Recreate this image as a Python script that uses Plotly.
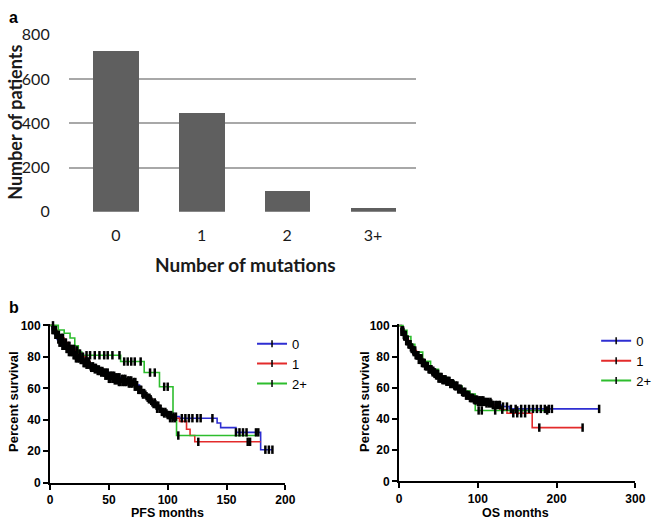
import numpy as np
import plotly.graph_objects as go

W, H = 664, 527

# ---------------- Panel a data ----------------
categories = ["0", "1", "2", "3+"]
patients = [729, 445, 96, 19]
bar_yticks = [0, 200, 400, 600, 800]

# ---------------- Panel b data: PFS ----------------
pfs0_t = [0, 2, 4, 6, 8, 10, 13, 16, 19, 22, 25, 28, 31, 35, 40, 45, 50, 55, 60, 65, 70, 73, 76, 79, 82, 85, 88, 91, 94, 97, 100, 104, 110, 142, 145, 158, 179, 189]
pfs0_s = [100, 97, 94, 91, 89, 87, 85, 83, 81, 79, 78, 76, 75, 73, 71, 70, 68, 67, 66, 65, 64, 62, 59, 56, 54, 52, 50, 47, 45, 44, 43, 42, 41, 38, 35, 32, 21, 21]
pfs1_t = [0, 3, 6, 9, 12, 15, 18, 21, 24, 27, 30, 34, 38, 42, 46, 50, 54, 58, 66, 72, 75, 78, 81, 84, 87, 90, 93, 96, 99, 102, 110, 116, 119, 123, 179]
pfs1_s = [100, 97, 94, 92, 89, 87, 85, 84, 82, 80, 77, 74, 72, 70, 68, 66, 65, 64, 63, 61, 59, 57, 55, 53, 51, 49, 47, 45, 43, 41, 39, 34, 30, 26, 26]
pfs2_t = [0, 7, 12, 17, 21, 24, 27, 60, 80, 93, 104.5, 107.5, 175]
pfs2_s = [100, 97, 95, 92, 87, 83, 81, 77, 70, 61, 40, 30, 30]

pfs0_c = [2, 3, 4.5, 5.5, 7, 8, 9, 10.5, 11.5, 12.5, 14, 15, 16, 17.5, 18.5, 20, 21, 22, 23.5, 24.5, 26, 27, 28.5, 29.5, 31, 32, 33.5, 35, 36, 37.5, 39, 40.5, 42, 43, 44.5, 46, 47.5, 49, 50.5, 52, 53, 54.5, 56, 57.5, 59, 61, 62.5, 64, 66, 67.5, 69, 71, 72.5, 74, 76, 77.5, 79, 81, 83, 84.5, 86, 88, 89.5, 91, 93, 95, 97, 99, 101, 103, 105, 107, 112, 115, 118, 121, 125, 128, 138, 158, 161, 164, 167, 175, 177, 183, 186, 189]
pfs1_c = [2.5, 4, 5, 6, 7.5, 9.5, 10, 11, 13, 13.5, 15.5, 16.5, 18, 19, 20.5, 22.5, 23, 25, 25.5, 27.5, 28, 30, 31.5, 33, 34.5, 36.5, 38, 40, 41.5, 43.5, 45, 47, 48.5, 50, 51.5, 53.5, 55, 57, 58.5, 60, 62, 63.5, 65, 67, 68.5, 70, 72, 73.5, 75, 77, 78.5, 80, 82, 84, 85.5, 87, 89, 90.5, 92, 94, 96, 98, 100, 102, 104, 106, 126, 168, 170]
pfs2_c = [31, 34, 38, 42, 46, 49, 53, 59, 63, 66, 69, 72, 77, 85, 89, 97, 100, 109]

# ---------------- Panel b data: OS ----------------
os0_t = [0, 3, 6, 9, 12, 15, 18, 21, 25, 29, 33, 37, 41, 45, 50, 55, 60, 65, 70, 75, 80, 85, 90, 95, 100, 110, 120, 130, 140, 255]
os0_s = [100, 96, 93, 90, 88, 85, 83, 81, 78, 76, 74, 72, 71, 69, 67, 65.5, 64.5, 63, 61.5, 59.5, 57.5, 55.5, 53.5, 52, 51, 50, 49, 48, 46.5, 46.5]
os1_t = [0, 3, 6, 9, 12, 15, 18, 22, 26, 30, 34, 38, 42, 46, 50, 55, 60, 65, 70, 75, 80, 85, 90, 95, 100, 108, 118, 128, 137, 169, 233]
os1_s = [100, 97, 94, 91, 88, 86, 84, 81, 79, 76, 74, 72, 70, 68, 66, 65, 64, 62.5, 61, 59, 57, 55, 53.5, 52.5, 52, 51, 49, 46, 43.7, 34.5, 34.5]
os2_t = [0, 5, 10, 15, 20, 30, 40, 50, 60, 70, 80, 90, 96.7, 190]
os2_s = [100, 97, 93, 88, 83, 77, 72, 67, 64, 61, 58, 56, 45.5, 45.5]

os0_c = [3, 4, 5.5, 6.5, 8, 9, 10.5, 12, 13, 14.5, 16, 17, 18.5, 20, 21, 22.5, 24, 25, 26.5, 28, 29, 30.5, 32, 33, 34.5, 36, 37.5, 39, 40.5, 42, 43.5, 45, 46.5, 48, 49.5, 51, 52.5, 54, 56, 57.5, 59, 61, 62.5, 64, 66, 68, 70, 72, 74, 76, 78, 80, 82, 84, 86, 88, 90, 92, 94, 96, 98, 100, 102, 104, 106, 108, 111, 114, 117, 120, 124, 128, 132, 137, 142, 148, 155, 160, 165, 170, 175, 180, 185, 190, 194, 254]
os1_c = [3.5, 5, 6, 7.5, 8.5, 10, 11, 12.5, 14, 15, 16.5, 18, 19, 20.5, 22, 23, 24.5, 26, 27, 28.5, 30, 31, 32.5, 34, 35, 36.5, 38, 39.5, 41, 42.5, 44, 45.5, 47, 48.5, 50, 51.5, 53, 55, 56.5, 58, 60, 61.5, 63, 65, 67, 69, 71, 73, 75, 77, 79, 81, 83, 85, 87, 89, 91, 93, 95, 97, 99, 101, 103, 105, 107, 110, 113, 116, 119, 123, 127, 131, 145, 150, 155, 160, 178, 233]
os2_c = [101, 105, 122, 150, 188]

group_names = ["0", "1", "2+"]
group_colors = ["#2e2ed2", "#e32b2b", "#2dbd2d"]


def px_x(p):
    return p / W


def px_y(p):
    return 1 - p / H


def surv_at(t, s, c):
    t = np.asarray(t, float)
    s = np.asarray(s, float)
    idx = np.searchsorted(t, np.asarray(c, float), side="right") - 1
    return s[np.clip(idx, 0, len(s) - 1)]


fig = go.Figure()

# ---- bar chart ----
fig.add_trace(go.Bar(x=categories, y=patients, width=0.53, marker=dict(color="#5f5f5f", line=dict(width=0)),
                     xaxis="x", yaxis="y", showlegend=False))

KM_FONT = "Liberation Sans, Arial, sans-serif"


def add_km(curves, censors, xa, ya, legend_name):
    for (t, s), col in zip(curves, group_colors):
        fig.add_trace(go.Scatter(x=t, y=s, mode="lines", line=dict(color=col, width=1.6, shape="hv"),
                                 xaxis=xa, yaxis=ya, showlegend=False, hoverinfo="skip"))
    for (t, s), c in zip(curves, censors):
        fig.add_trace(go.Scatter(x=c, y=surv_at(t, s, c), mode="markers",
                                 marker=dict(symbol="line-ns", size=6, line=dict(width=2.5, color="black")),
                                 xaxis=xa, yaxis=ya, showlegend=False, cliponaxis=False))
    for name, col in zip(group_names, group_colors):
        fig.add_trace(go.Scatter(x=[None], y=[None], mode="lines+markers", name=name,
                                 line=dict(color=col, width=2),
                                 marker=dict(symbol="line-ns", size=5, line=dict(width=1.5, color="black")),
                                 xaxis=xa, yaxis=ya, legend=legend_name))


add_km([(pfs0_t, pfs0_s), (pfs1_t, pfs1_s), (pfs2_t, pfs2_s)], [pfs0_c, pfs1_c, pfs2_c], "x2", "y2", "legend")
add_km([(os0_t, os0_s), (os1_t, os1_s), (os2_t, os2_s)], [os0_c, os1_c, os2_c], "x3", "y3", "legend2")

km_axis = dict(showline=True, linecolor="black", linewidth=2, ticks="outside", ticklen=5, tickwidth=2,
               tickcolor="black", showgrid=False, zeroline=False,
               tickfont=dict(family=KM_FONT, size=12, color="black", weight="bold"), fixedrange=True)

legend_style = dict(font=dict(family=KM_FONT, size=13, color="black"), bgcolor="rgba(0,0,0,0)",
                    xanchor="left", yanchor="top", tracegroupgap=0, itemclick=False)

fig.update_layout(
    width=W, height=H, margin=dict(l=0, r=0, t=0, b=0),
    paper_bgcolor="white", plot_bgcolor="white",
    xaxis=dict(domain=[px_x(67), px_x(421)], anchor="y", range=[-0.55, 3.5], type="category",
               showline=False, showgrid=False, zeroline=False, ticks="",
               tickfont=dict(family="Lato, sans-serif", size=16, color="#1a1a1a"), ticklabelstandoff=12),
    yaxis=dict(domain=[px_y(210), px_y(25.8)], anchor="x", range=[0, 804], tickvals=bar_yticks,
               showgrid=True, gridcolor="#a8a8a8", gridwidth=2, zeroline=False, showline=False, ticks="",
               tickfont=dict(family="Lato, sans-serif", size=16, color="#1a1a1a"), ticklabelstandoff=18),
    xaxis2=dict(domain=[px_x(48), px_x(288)], anchor="y2", range=[0, 200], tickvals=[0, 50, 100, 150, 200], **km_axis),
    yaxis2=dict(domain=[px_y(490.5), px_y(325.9)], anchor="x2", range=[0, 101], tickvals=[0, 20, 40, 60, 80, 100], **km_axis),
    xaxis3=dict(domain=[px_x(404), px_x(645)], anchor="y3", range=[0, 300], tickvals=[0, 100, 200, 300], **km_axis),
    yaxis3=dict(domain=[px_y(489), px_y(326.2)], anchor="x3", range=[0, 101], tickvals=[0, 20, 40, 60, 80, 100], **km_axis),
    legend=dict(x=px_x(254), y=px_y(331), **legend_style),
    legend2=dict(x=px_x(605), y=px_y(328), **legend_style),
    bargap=0,
)

ann = []


def add_text(text, x, y, size, family, angle=0, color="black"):
    ann.append(dict(text=text, x=px_x(x), y=px_y(y), xref="paper", yref="paper", showarrow=False,
                    xanchor="center", yanchor="middle", textangle=angle,
                    font=dict(family=family, size=size, color=color, weight="bold")))


add_text("a", 11, 9, 16, KM_FONT)
add_text("b", 11, 309, 16, KM_FONT)
add_text("Number of patients", 12, 117, 18, "Lato, sans-serif", -90, "#1a1a1a")
add_text("Number of mutations", 247, 265, 19, "Lato, sans-serif", 0, "#1a1a1a")
add_text("Percent survival", 10, 407, 13, KM_FONT, -90)
add_text("PFS months", 168, 522, 12.5, KM_FONT)
add_text("Percent survival", 368, 407, 13, KM_FONT, -90)
add_text("OS months", 523, 522, 12.5, KM_FONT)
fig.update_layout(annotations=ann)

fig.write_html("out.html", config={"displayModeBar": False},
               post_script="document.body.style.margin='0';document.body.style.padding='0';")
